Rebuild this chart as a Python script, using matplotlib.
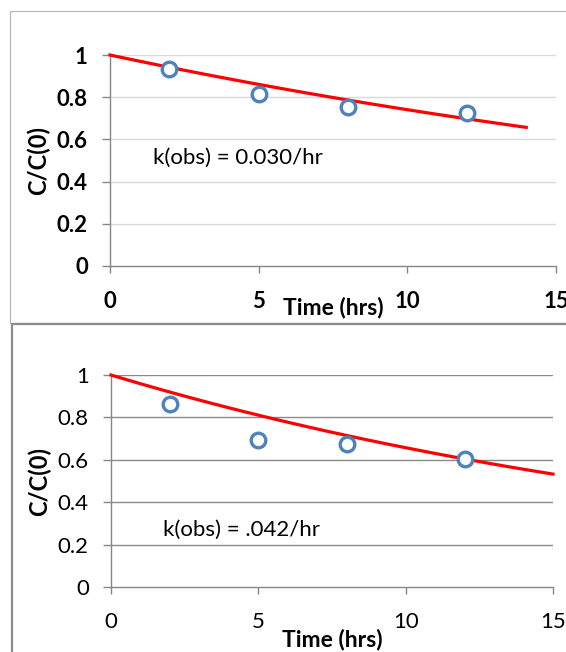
import numpy as np
import matplotlib.pyplot as plt
from matplotlib.patches import Rectangle

# measured relative concentration
t_obs = np.array([2, 5, 8, 12])
c_top = np.array([0.932, 0.814, 0.752, 0.724])
c_bot = np.array([0.862, 0.693, 0.673, 0.602])

# first-order rate constants (1/hr)
k_top = 0.030
k_bot = 0.042
label_top = 'k(obs) = 0.030/hr'
label_bot = 'k(obs) = .042/hr'

# time ranges of the fitted curves
t_fit_top = np.linspace(0, 14, 60)
t_fit_bot = np.linspace(0, 15, 60)

xticks = [0, 5, 10, 15]
yticks = [0, 0.2, 0.4, 0.6, 0.8, 1.0]
ytick_labels = ['0', '0.2', '0.4', '0.6', '0.8', '1']

plt.rcParams['font.family'] = ['Lato', 'DejaVu Sans']

W, H = 566, 652
fig = plt.figure(figsize=(W / 100, H / 100), dpi=100)


def px(x0, y0, x1, y1):
    # pixel box (from top-left) -> figure fraction rect
    return [x0 / W, 1 - y1 / H, (x1 - x0) / W, (y1 - y0) / H]


# chart frames
fig.patches.append(Rectangle((10 / W, 1 - 323 / H), 1.0, 312 / H, transform=fig.transFigure,
                             fill=False, edgecolor='#b8b8b8', lw=0.9, zorder=0))
fig.patches.append(Rectangle((12 / W, -0.1), 1.0, 0.1 + 1 - 323.5 / H, transform=fig.transFigure,
                             fill=False, edgecolor='#8c8c8c', lw=1.6, zorder=0))


def panel(rect, c, k, t_fit, text, text_xy, bold_ticks, grid_color, xlab_y):
    ax = fig.add_axes(rect)
    ax.set_xlim(0, 15)
    ax.set_ylim(0, 1)
    for side in ['top', 'right']:
        ax.spines[side].set_visible(False)
    for side in ['left', 'bottom']:
        ax.spines[side].set_color('#868686')
        ax.spines[side].set_linewidth(1.0)
    for y in yticks[1:]:
        ax.axhline(y, color=grid_color, lw=1.0, zorder=1)

    ax.plot(t_fit, np.exp(-k * t_fit), color='#ff0000', lw=2.3, zorder=3, clip_on=False)
    ax.plot(t_obs, c, 'o', ms=10.5, mfc='white', mec='#4f81bd', mew=2.4, zorder=4)

    weight = 'bold' if bold_ticks else 'normal'
    ax.set_xticks(xticks)
    ax.set_xticklabels([str(v) for v in xticks], fontsize=16, fontweight=weight)
    ax.set_yticks(yticks)
    ax.set_yticklabels(ytick_labels, fontsize=16, fontweight=weight)
    ax.tick_params(axis='x', length=5, width=1, color='#868686', pad=13)
    ax.tick_params(axis='y', length=6, width=1, color='#868686', pad=10)

    ax.text(text_xy[0], text_xy[1], text, fontsize=16, ha='left', va='center')
    ax.text(0.5, xlab_y, 'Time (hrs)', transform=ax.transAxes, fontsize=16.5,
            fontweight='bold', ha='center', va='center')
    ax.text(-0.161, 0.5, 'C/C(0)', transform=ax.transAxes, fontsize=17,
            fontweight='bold', ha='center', va='center', rotation=90)
    return ax


panel(px(110, 55, 556, 266), c_top, k_top, t_fit_top, label_top, (1.45, 0.512),
      True, '#d9d9d9', -42 / 211)
panel(px(111, 375, 553, 587), c_bot, k_bot, t_fit_bot, label_bot, (1.76, 0.269),
      False, '#8a8a8a', -52 / 212)

fig.savefig('out.png', dpi=100)
